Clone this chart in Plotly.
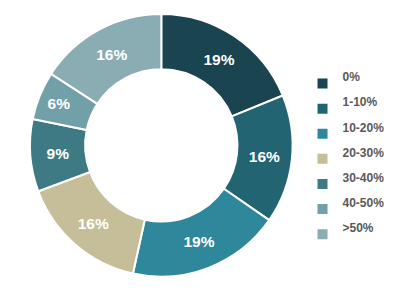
import plotly.graph_objects as go

categories = ["0%", "1-10%", "10-20%", "20-30%", "30-40%", "40-50%", ">50%"]
values = [19, 16, 19, 16, 9, 6, 16]
colors = ["#1a4450", "#236473", "#2e879b", "#c5be98", "#3e7a84", "#72a0a8", "#8aacb3"]

W, H = 397, 300
cx, cy, r = 161.3, 145.3, 131.3

legend_labels = ["<span style='font-size:12px'>%s</span><br> " % c for c in categories]

fig = go.Figure(go.Pie(
    labels=legend_labels,
    values=values,
    sort=False,
    direction="clockwise",
    rotation=0,
    hole=0.58,
    marker=dict(colors=colors, line=dict(color="white", width=2)),
    texttemplate="%{value}%",
    textposition="inside",
    insidetextorientation="horizontal",
    textfont=dict(family="Liberation Sans, Arial", size=15.5, color="white", weight="bold"),
    domain=dict(x=[(cx - r) / W, (cx + r) / W], y=[(H - cy - r) / H, (H - cy + r) / H]),
))

fig.update_layout(
    width=W, height=H,
    margin=dict(l=0, r=0, t=0, b=0),
    paper_bgcolor="white",
    showlegend=True,
    legend=dict(
        x=0.762, y=0.78, xanchor="left", yanchor="top",
        font=dict(family="Liberation Sans, Arial", size=8.5, color="#595959", weight="bold"),
        itemwidth=30,
    ),
)

fig.write_html("out.html")
